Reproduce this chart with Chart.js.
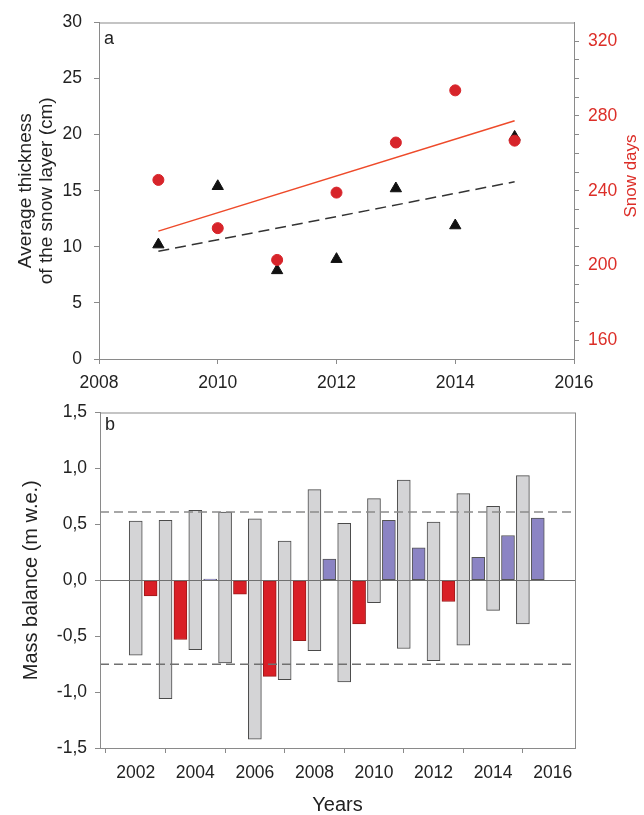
<!DOCTYPE html>
<html>
<head>
<meta charset="utf-8">
<script src="https://cdn.jsdelivr.net/npm/chart.js@4/dist/chart.umd.min.js"></script>
<style>
  body { margin: 0; background: #fff; }
  #wrapA { position: absolute; left: 0; top: 0; }
  #wrapB { position: absolute; left: 0; top: 394px; }
</style>
</head>
<body>
<div id="wrapA"><canvas id="chartA" width="644" height="394"></canvas></div>
<div id="wrapB"><canvas id="chartB" width="644" height="421"></canvas></div>
<script>
// panel a: snow layer thickness and snow days
const years = [2009, 2010, 2011, 2012, 2013, 2014, 2015];
const snowThickness = [10.2, 15.4, 7.9, 8.9, 15.2, 11.9, 19.8];
const snowDays = [245.8, 220, 203, 239, 265.8, 293.7, 266.8];
const trendYears = [2009, 2015];
const thicknessTrend = [9.6, 15.8];
const snowDaysTrend = [218.4, 277.4];
const yearTicksA = [2008, 2010, 2012, 2014, 2016];
const snowDayTicks = [160, 170, 180, 190, 200, 210, 220, 230, 240, 250, 260, 270, 280, 290, 300, 310, 320];
const snowDayLabels = [160, 200, 240, 280, 320];

// panel b: mass balance
const balanceYears = [2002, 2003, 2004, 2005, 2006, 2007, 2008, 2009, 2010, 2011, 2012, 2013, 2014, 2015];
const balanceMin = [-0.67, -1.06, -0.62, -0.74, -1.42, -0.89, -0.63, -0.91, -0.20, -0.61, -0.72, -0.58, -0.27, -0.39];
const balanceMax = [0.53, 0.535, 0.625, 0.61, 0.55, 0.35, 0.81, 0.51, 0.73, 0.895, 0.52, 0.775, 0.66, 0.935];
const annualBalance = [-0.14, -0.53, 0.01, -0.125, -0.86, -0.54, 0.19, -0.39, 0.535, 0.29, -0.19, 0.205, 0.40, 0.555];
const balanceLimits = [0.61, -0.75];
const yearTicksB = [2002, 2004, 2006, 2008, 2010, 2012, 2014, 2016];

const FONT = 'Liberation Sans, Arial, sans-serif';
const AXIS = '#8a8a8a';
const TXT = '#222';
const RED = '#d7242a';

Chart.defaults.font.family = FONT;
Chart.defaults.animation = false;

// frame + panel letters
const framePlugin = {
  id: 'frame',
  afterDraw(chart, args, opts) {
    const {ctx, chartArea: a} = chart;
    ctx.save();
    ctx.strokeStyle = AXIS;
    ctx.lineWidth = 1;
    ctx.strokeRect(a.left + 0.5, a.top + 0.5, a.right - a.left, a.bottom - a.top);
    ctx.fillStyle = TXT;
    ctx.font = '18px ' + FONT;
    ctx.textBaseline = 'alphabetic';
    ctx.fillText(opts.letter, a.left + 5, a.top + opts.dy);
    if (opts.rightTitle) {
      ctx.translate(631, 176);
      ctx.rotate(-Math.PI / 2);
      ctx.textAlign = 'center';
      ctx.textBaseline = 'middle';
      ctx.fillStyle = '#dc2e28';
      ctx.font = '17px ' + FONT;
      ctx.fillText(opts.rightTitle, 0, 0);
    }
    ctx.restore();
  }
};

const pts = (xs, ys) => xs.map((x, i) => ({x: x, y: ys[i]}));

new Chart(document.getElementById('chartA'), {
  type: 'scatter',
  data: {
    datasets: [
      {
        data: pts(years, snowDays), yAxisID: 'y2',
        pointStyle: 'circle', pointRadius: 5.5,
        backgroundColor: RED, borderColor: RED, order: 0
      },
      {
        data: pts(years, snowThickness), yAxisID: 'y',
        pointStyle: 'triangle', pointRadius: 6.5,
        backgroundColor: '#111', borderColor: '#111', order: 1
      },
      {
        type: 'line', data: pts(trendYears, snowDaysTrend), yAxisID: 'y2',
        borderColor: '#ee4a2a', borderWidth: 1.5, pointRadius: 0, order: 2
      },
      {
        type: 'line', data: pts(trendYears, thicknessTrend), yAxisID: 'y',
        borderColor: '#333', borderWidth: 1.5, borderDash: [11, 6], pointRadius: 0, order: 3
      }
    ]
  },
  options: {
    responsive: false,
    layout: { padding: { top: 17 } },
    plugins: {
      legend: { display: false }, tooltip: { enabled: false },
      frame: { letter: 'a', dy: 21, rightTitle: 'Snow days' }
    },
    scales: {
      x: {
        type: 'linear', min: 2008, max: 2016,
        afterBuildTicks: s => { s.ticks = yearTicksA.map(v => ({value: v})); },
        afterFit: s => { s.height = 35; },
        border: { color: AXIS },
        grid: { drawOnChartArea: false, tickLength: 5, tickColor: AXIS },
        ticks: { autoSkip: false, maxRotation: 0, padding: 9, color: TXT, font: { size: 17.5 }, callback: v => String(v) }
      },
      y: {
        position: 'left', min: 0, max: 30,
        afterBuildTicks: s => { s.ticks = [0, 5, 10, 15, 20, 25, 30].map(v => ({value: v})); },
        afterFit: s => { s.width = 99; },
        border: { color: AXIS },
        grid: { drawOnChartArea: false, tickLength: 5, tickColor: AXIS },
        ticks: { autoSkip: false, padding: 12, color: TXT, font: { size: 17.5 }, callback: v => String(v) },
        title: {
          display: true, text: ['Average thickness', 'of the snow layer (cm)'],
          color: TXT, font: { size: 19, lineHeight: 1.1 }, padding: { top: 15, bottom: 0 }
        }
      },
      y2: {
        position: 'right', min: 150, max: 330,
        afterBuildTicks: s => { s.ticks = snowDayTicks.map(v => ({value: v})); },
        afterFit: s => { s.width = 70; },
        border: { color: AXIS },
        grid: { drawOnChartArea: false, tickLength: 5, tickColor: AXIS },
        ticks: {
          autoSkip: false, padding: 9, color: '#dc2e28', font: { size: 17.5 },
          callback: v => snowDayLabels.includes(v) ? String(v) : ''
        }
      }
    }
  },
  plugins: [framePlugin]
});

const xMinB = 2000.8, xMaxB = 2016.75;

new Chart(document.getElementById('chartB'), {
  type: 'bar',
  data: {
    datasets: [
      {
        type: 'line', data: pts([xMinB, xMaxB], [balanceLimits[0], balanceLimits[0]]),
        borderColor: '#8a8a8a', borderWidth: 1.5, borderDash: [9, 5], pointRadius: 0, order: 0
      },
      {
        type: 'line', data: pts([xMinB, xMaxB], [balanceLimits[1], balanceLimits[1]]),
        borderColor: '#707070', borderWidth: 1.5, borderDash: [9, 5], pointRadius: 0, order: 0
      },
      {
        data: balanceYears.map((y, i) => ({x: y, y: [balanceMin[i], balanceMax[i]]})),
        backgroundColor: '#d4d4d6', borderColor: '#4a4a4a', borderWidth: 1,
        borderSkipped: false, barThickness: 13, grouped: false, order: 2
      },
      {
        data: balanceYears.map((y, i) => ({x: y + 0.5, y: annualBalance[i]})),
        backgroundColor: annualBalance.map(v => v < 0 ? '#d91f26' : '#8b84c4'),
        borderColor: annualBalance.map(v => v < 0 ? '#9a1a1a' : '#555'),
        borderWidth: 1, borderSkipped: false, barThickness: 13, grouped: false, order: 1
      }
    ]
  },
  options: {
    responsive: false,
    layout: { padding: { top: 12, right: 69 } },
    plugins: {
      legend: { display: false }, tooltip: { enabled: false },
      frame: { letter: 'b', dy: 17 }
    },
    scales: {
      x: {
        type: 'linear', min: xMinB, max: xMaxB, offset: false,
        afterBuildTicks: s => { s.ticks = yearTicksB.map(v => ({value: v})); },
        afterFit: s => { s.height = 67; },
        border: { color: AXIS },
        grid: { drawOnChartArea: false, tickLength: 5, tickColor: AXIS },
        ticks: { autoSkip: false, maxRotation: 0, padding: 10, color: TXT, font: { size: 17.5 }, callback: v => String(v) },
        title: {
          display: true, text: 'Years', color: TXT,
          font: { size: 20, lineHeight: 1.0 }, padding: { top: 0, bottom: 0 }
        }
      },
      y: {
        min: -1.5, max: 1.5,
        afterBuildTicks: s => { s.ticks = [-1.5, -1, -0.5, 0, 0.5, 1, 1.5].map(v => ({value: v})); },
        afterFit: s => { s.width = 100; },
        border: { color: AXIS, z: 1 },
        grid: {
          z: 1, tickLength: 5, tickColor: AXIS, lineWidth: 1,
          color: c => (c.tick && c.tick.value === 0) ? '#707070' : 'rgba(0,0,0,0)'
        },
        ticks: {
          autoSkip: false, padding: 8, color: TXT, font: { size: 17.5 },
          callback: v => v.toFixed(1).replace('.', ',')
        },
        title: {
          display: true, text: 'Mass balance (m w.e.)', color: TXT,
          font: { size: 20, lineHeight: 1.2 }, padding: { top: 19, bottom: 0 }
        }
      }
    }
  },
  plugins: [framePlugin]
});
</script>
</body>
</html>
